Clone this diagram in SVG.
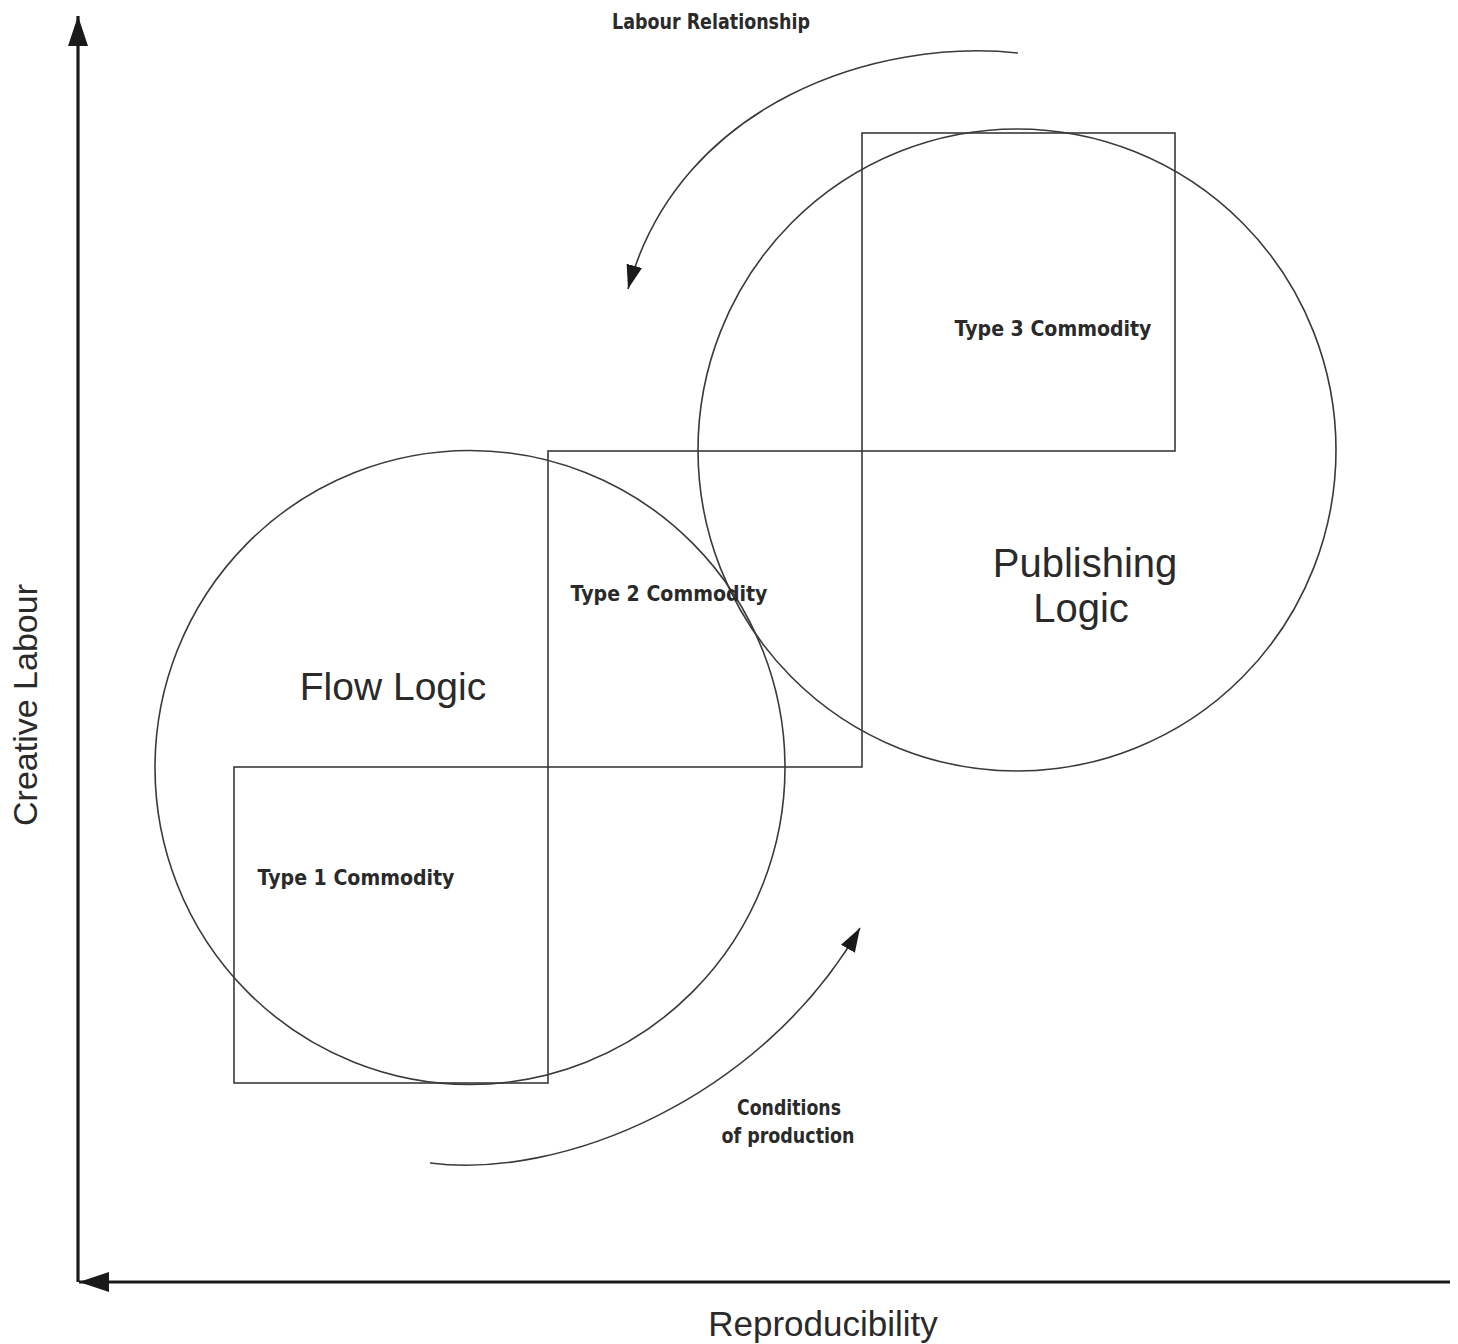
<svg xmlns="http://www.w3.org/2000/svg" width="1458" height="1344" viewBox="0 0 1458 1344">
<defs>
<style>
.shape{fill:none;stroke:#3a3a3a;stroke-width:1.6}
.axis{fill:none;stroke:#1a1a1a;stroke-width:3.2}
.curve{fill:none;stroke:#3a3a3a;stroke-width:1.6}
.big{font-family:"Liberation Sans",Arial,sans-serif;fill:#2a2a2a;text-anchor:middle}
.lbl{font-family:"DejaVu Sans",sans-serif;font-weight:bold;font-size:21px;fill:#2a2a2a;text-anchor:middle}
</style>
<marker id="ah" viewBox="0 0 24 16" refX="24" refY="8" markerWidth="24" markerHeight="16" markerUnits="userSpaceOnUse" orient="auto">
<path d="M0,0 L24,8 L0,16 Z" fill="#1a1a1a"/>
</marker>
<marker id="axh" viewBox="0 0 30 20" refX="30" refY="10" markerWidth="30" markerHeight="20" markerUnits="userSpaceOnUse" orient="auto">
<path d="M0,0 L30,10 L0,20 Z" fill="#1a1a1a"/>
</marker>
</defs>
<rect width="1458" height="1344" fill="#ffffff"/>
<g id="axes">
<line class="axis" x1="78" y1="1282" x2="78" y2="16" marker-end="url(#axh)"/>
<line class="axis" x1="1450" y1="1282" x2="79" y2="1282" marker-end="url(#axh)"/>
</g>
<g id="flow-logic">
<ellipse class="shape" cx="470" cy="767.5" rx="315" ry="317"/>
<text class="big" x="393" y="700" font-size="39">Flow Logic</text>
</g>
<g id="publishing-logic">
<ellipse class="shape" cx="1017" cy="450" rx="319" ry="321"/>
<text class="big" x="1085" y="577" font-size="40">Publishing</text>
<text class="big" x="1081" y="622" font-size="40">Logic</text>
</g>
<g id="type1">
<rect class="shape" x="234" y="767" width="314" height="316"/>
<text class="lbl" x="356" y="885" textLength="197" lengthAdjust="spacingAndGlyphs">Type 1 Commodity</text>
</g>
<g id="type2">
<rect class="shape" x="548" y="451" width="314" height="316"/>
<text class="lbl" x="669" y="601" textLength="197" lengthAdjust="spacingAndGlyphs">Type 2 Commodity</text>
</g>
<g id="type3">
<rect class="shape" x="862" y="133" width="313" height="318"/>
<text class="lbl" x="1053" y="336" textLength="197" lengthAdjust="spacingAndGlyphs">Type 3 Commodity</text>
</g>
<g id="connectors">
<path class="curve" d="M1018,53 C880,38 680,100 628,289" marker-end="url(#ah)"/>
<path class="curve" d="M430,1163 C560,1180 760,1100 860,928" marker-end="url(#ah)"/>
</g>
<g id="labels">
<text class="lbl" x="711" y="29" textLength="198" lengthAdjust="spacingAndGlyphs">Labour Relationship</text>
<text class="lbl" x="789" y="1115" textLength="104" lengthAdjust="spacingAndGlyphs">Conditions</text>
<text class="lbl" x="788" y="1143" textLength="133" lengthAdjust="spacingAndGlyphs">of production</text>
<text class="big" x="823" y="1336" font-size="35">Reproducibility</text>
<text class="big" font-size="34" transform="translate(37,705) rotate(-90)">Creative Labour</text>
</g>
</svg>
